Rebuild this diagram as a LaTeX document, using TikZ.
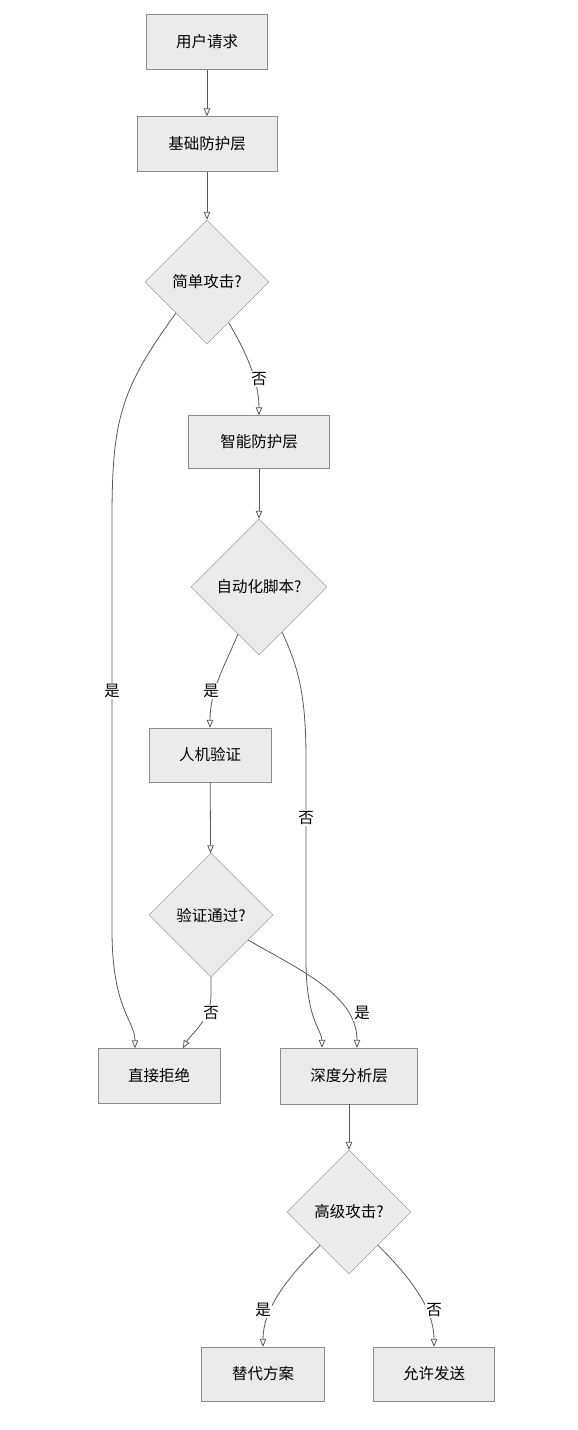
\documentclass[tikz,border=0pt]{standalone}
\usepackage{fontspec}
\setmainfont{Noto Sans CJK SC}
\usetikzlibrary{arrows,shapes.geometric}

\begin{document}
\begin{tikzpicture}[x=1pt,y=-1pt]
	 \tikzstyle{block}=[rectangle,draw=black!45,fill=black!8,inner sep=0pt,minimum height=55pt,font=\fontsize{15.5}{17}\selectfont]
	 \tikzstyle{decision}=[diamond,draw=black!45,fill=black!8,inner sep=0pt,minimum width=124pt,minimum height=124pt,font=\fontsize{15.5}{17}\selectfont]
	 \tikzstyle{edge}=[draw=black!65,line width=0.8pt,-open triangle 45]
	 \tikzstyle{tag}=[fill=white,text=black,inner sep=1pt,font=\fontsize{15.5}{17}\selectfont]

	 \useasboundingbox (0,0) rectangle (578,1430);

	 \node[block,minimum width=121pt] (req) at (207,42) {用户请求};
	 \node[block,minimum width=140pt] (base) at (207,144) {基础防护层};
	 \node[decision] (d1) at (207,282) {简单攻击?};
	 \node[block,minimum width=141pt,minimum height=53pt] (smart) at (259,442) {智能防护层};
	 \node[decision,minimum width=136pt,minimum height=136pt] (d2) at (259,587) {自动化脚本?};
	 \node[block,minimum width=122pt,minimum height=54pt] (captcha) at (210,755) {人机验证};
	 \node[decision] (d3) at (211,915) {验证通过?};
	 \node[block,minimum width=122pt] (reject) at (159,1076) {直接拒绝};
	 \node[block,minimum width=137pt,minimum height=56pt] (deep) at (349,1076) {深度分析层};
	 \node[decision] (d4) at (349,1212) {高级攻击?};
	 \node[block,minimum width=123pt,minimum height=54pt] (alt) at (263,1374) {替代方案};
	 \node[block,minimum width=121pt,minimum height=54pt] (allow) at (434,1374) {允许发送};

	 \draw[edge] (req) -- (base);
	 \draw[edge] (base) -- (d1);
	 \draw[edge] (d1.south west) .. controls (120,390) and (112,420) .. (112,520) -- (112,930)
		.. controls (112,1010) and (135,1020) .. ([xshift=-24pt]reject.north);
	 \draw[edge] (d1.-62) .. controls (245,350) and (259,380) .. (smart.north);
	 \draw[edge] (smart) -- (d2);
	 \draw[edge] (d2.-114) .. controls (225,665) and (210,690) .. (captcha.north);
	 \draw[edge] (d2.-63) .. controls (300,670) and (306,700) .. (306,760) -- (306,960)
		.. controls (306,1020) and (322,1030) .. ([xshift=-27pt]deep.north);
	 \draw[edge] (captcha) -- (d3);
	 \draw[edge] (d3.south) -- (211,995) .. controls (211,1020) and (190,1035) .. ([xshift=24pt]reject.north);
	 \draw[edge] (d3.-34) .. controls (300,970) and (357,995) .. ([xshift=8pt]deep.north);
	 \draw[edge] (deep) -- (d4);
	 \draw[edge] (d4.-131) .. controls (285,1280) and (263,1310) .. (alt.north);
	 \draw[edge] (d4.-49) .. controls (413,1280) and (434,1310) .. (allow.north);

	 % labels
	 \node[tag] (yes1) at (112,691) {是};
	 \node[tag] (no1) at (259,379) {否};
	 \node[tag] (yes2) at (211,691) {是};
	 \node[tag] (no2) at (306,818) {否};
	 \node[tag] (no3) at (211,1013) {否};
	 \node[tag] (yes3) at (362,1013) {是};
	 \node[tag] (yes4) at (263,1310) {是};
	 \node[tag] (no4) at (434,1310) {否};
\end{tikzpicture}
\end{document}
